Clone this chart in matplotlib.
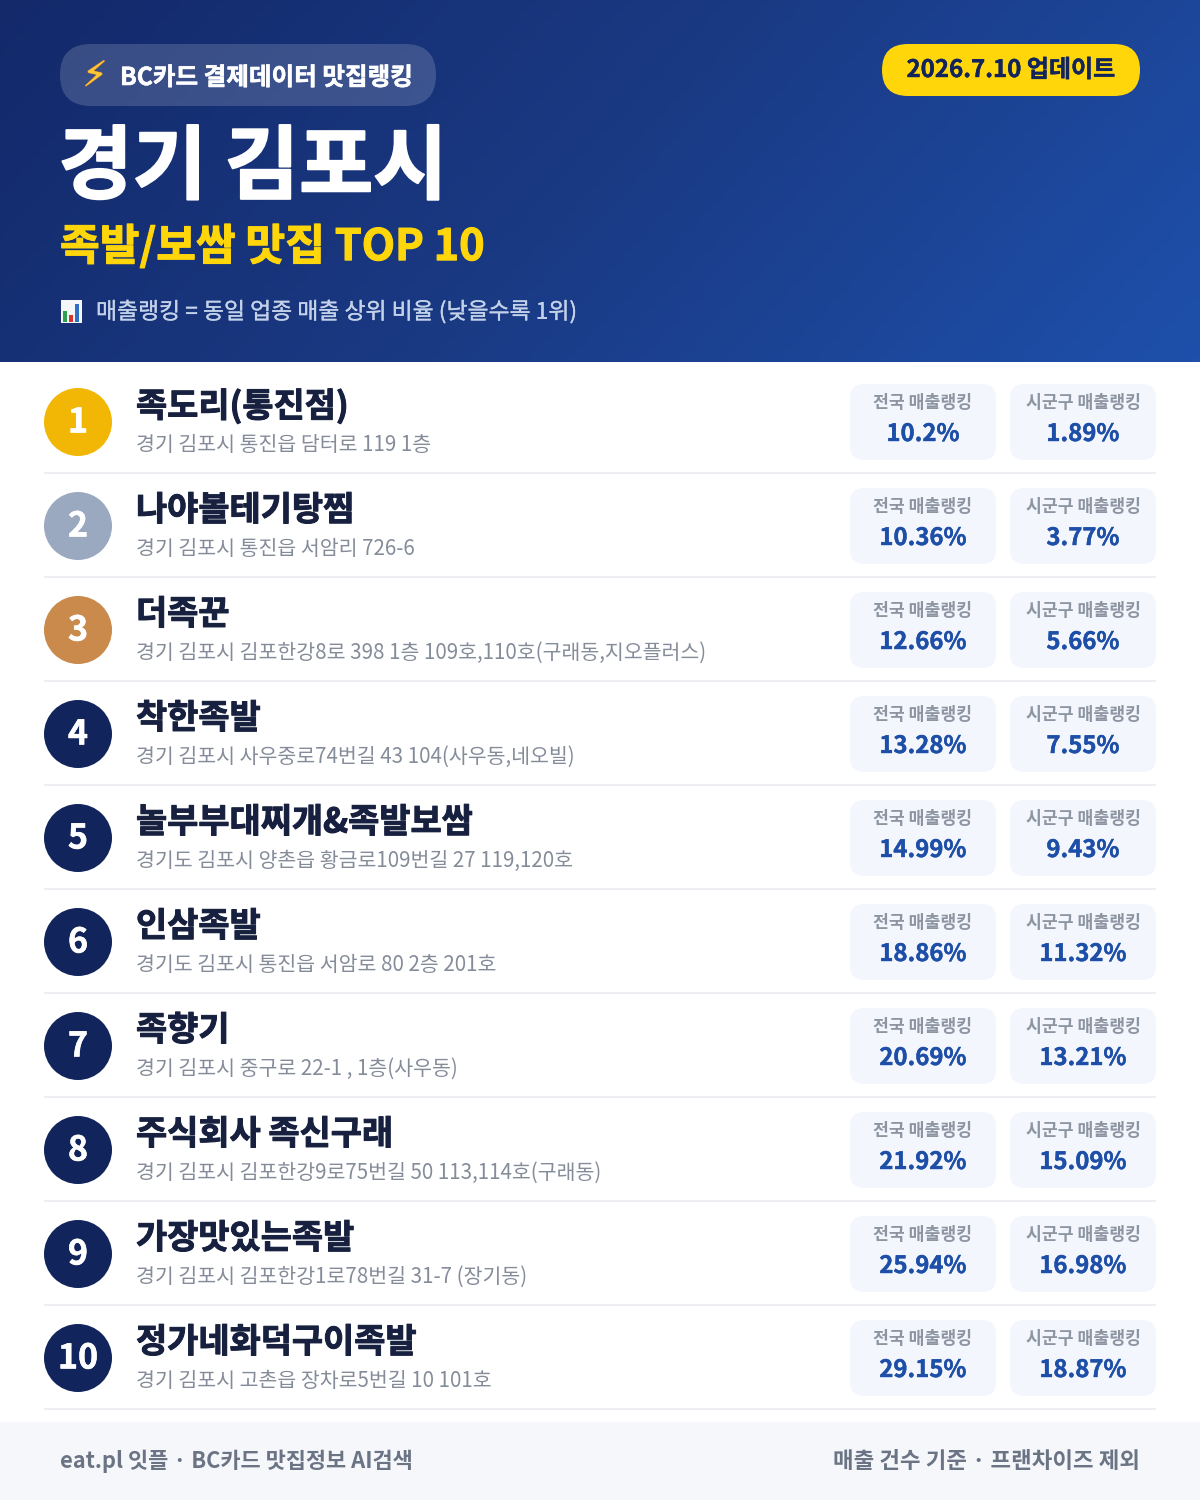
import numpy as np
import matplotlib
matplotlib.use('Agg')
import matplotlib.pyplot as plt
import matplotlib.patheffects as pe
from matplotlib.patches import FancyBboxPatch, Circle, Rectangle
from matplotlib.colors import LinearSegmentedColormap

plt.rcParams['font.family'] = ['Noto Sans CJK KR', 'DejaVu Sans']

names = ['족도리(통진점)', '나야볼테기탕찜', '더족꾼', '착한족발', '놀부부대찌개&족발보쌈',
         '인삼족발', '족향기', '주식회사 족신구래', '가장맛있는족발', '정가네화덕구이족발']
addresses = ['경기 김포시 통진읍 담터로 119 1층',
             '경기 김포시 통진읍 서암리 726-6',
             '경기 김포시 김포한강8로 398 1층 109호,110호(구래동,지오플러스)',
             '경기 김포시 사우중로74번길 43 104(사우동,네오빌)',
             '경기도 김포시 양촌읍 황금로109번길 27 119,120호',
             '경기도 김포시 통진읍 서암로 80 2층 201호',
             '경기 김포시 중구로 22-1 , 1층(사우동)',
             '경기 김포시 김포한강9로75번길 50 113,114호(구래동)',
             '경기 김포시 김포한강1로78번길 31-7 (장기동)',
             '경기 김포시 고촌읍 장차로5번길 10 101호']
national = [10.2, 10.36, 12.66, 13.28, 14.99, 18.86, 20.69, 21.92, 25.94, 29.15]
local = [1.89, 3.77, 5.66, 7.55, 9.43, 11.32, 13.21, 15.09, 16.98, 18.87]
badge_colors = ['#f2b705', '#9aa8c0', '#c98a4b'] + ['#12245c'] * 7


def pill(ax, x0, y0, x1, y1, r, color, alpha=1.0, z=2):
    ax.add_patch(FancyBboxPatch((x0 + r, y0 + r), x1 - x0 - 2 * r, y1 - y0 - 2 * r,
                                boxstyle=f'round,pad={r},rounding_size={r}',
                                fc=color, ec='none', lw=0, alpha=alpha, zorder=z))


# the reference font is heavier than the bold we have, thicken with a thin stroke
def heavy(width, color):
    return [pe.withStroke(linewidth=width, foreground=color)]


fig = plt.figure(figsize=(12, 15), dpi=100, facecolor='white')
ax = fig.add_axes([0, 0, 1, 1])
ax.set_xlim(0, 1200)
ax.set_ylim(1500, 0)
ax.axis('off')

# header background
gx, gy = np.meshgrid(np.linspace(0, 1, 300), np.linspace(0, 1, 100))
cmap = LinearSegmentedColormap.from_list('hdr', ['#13296a', '#1a3a84', '#1e50ab'])
ax.imshow((gx * 0.78 + gy * 0.22), extent=(0, 1200, 362, 0), cmap=cmap,
          aspect='auto', zorder=0, vmin=0, vmax=1)
ax.set_xlim(0, 1200)
ax.set_ylim(1500, 0)

# header pills and titles
pill(ax, 60, 44, 436, 106, 31, '#ffffff', alpha=0.16)
ax.text(95, 76, '⚡', family=['DejaVu Sans'], fontsize=25, color='#ffc83a',
        ha='center', va='center', zorder=3, path_effects=heavy(0.8, '#f09a1a'))
ax.text(120, 78, 'BC카드 결제데이터 맛집랭킹', fontsize=17.7, fontweight='bold',
        color='white', ha='left', va='center', zorder=3,
        path_effects=heavy(0.4, 'white'))
pill(ax, 882, 44, 1140, 96, 26, '#ffd60a')
ax.text(1011, 70, '2026.7.10 업데이트', fontsize=17.3, fontweight='bold',
        color='#12245c', ha='center', va='center', zorder=3,
        path_effects=heavy(0.3, '#12245c'))
ax.text(58.5, 169, '경기 김포시', fontsize=58, fontweight='bold', color='white',
        ha='left', va='center', zorder=3, path_effects=heavy(1.4, 'white'))
ax.text(60, 247, '족발/보쌈 맛집 TOP 10', fontsize=31.1, fontweight='bold',
        color='#ffd60a', ha='left', va='center', zorder=3,
        path_effects=heavy(0.8, '#ffd60a'))

# chart icon
ax.add_patch(Rectangle((61, 300), 21, 23, fc='#f4f6f8', ec='none', zorder=3))
ax.add_patch(Rectangle((63, 311), 4, 11, fc='#2e9e4f', ec='none', zorder=4))
ax.add_patch(Rectangle((69, 315), 4, 7, fc='#d9342b', ec='none', zorder=4))
ax.add_patch(Rectangle((75, 304), 4, 18, fc='#2f6fc4', ec='none', zorder=4))
ax.text(96, 312, '매출랭킹 = 동일 업종 매출 상위 비율 (낮을수록 1위)', fontsize=16.45,
        color='#c3d2ea', ha='left', va='center', zorder=3,
        path_effects=heavy(0.2, '#c3d2ea'))

# rows
for i in range(len(names)):
    dy = 104 * i
    ax.add_patch(Circle((78, 422 + dy), 34, fc=badge_colors[i], ec='none', zorder=2))
    ax.text(78, 422 + dy, str(i + 1), fontsize=24.5, fontweight='bold', color='white',
            ha='center', va='center', zorder=3, path_effects=heavy(0.4, 'white'))
    ax.text(136, 406 + dy, names[i], fontsize=24.4, fontweight='bold', color='#17213f',
            ha='left', va='center', zorder=3, path_effects=heavy(0.7, '#17213f'))
    ax.text(136, 445 + dy, addresses[i], fontsize=14.8, color='#858c99',
            ha='left', va='center', zorder=3)
    ax.plot([44, 1156], [473 + dy, 473 + dy], color='#eceef1', lw=1.5, zorder=1,
            solid_capstyle='butt')
    for x0, label, val in ((850, '전국 매출랭킹', national[i]), (1010, '시군구 매출랭킹', local[i])):
        pill(ax, x0, 384 + dy, x0 + 146, 460 + dy, 14, '#f3f6fc')
        cx = x0 + 73
        ax.text(cx, 403 + dy, label, fontsize=12.4, fontweight='bold', color='#8d95a3',
                ha='center', va='center', zorder=3)
        ax.text(cx, 434 + dy, f'{val:g}%', fontsize=17.2, fontweight='bold', color='#1e4fa8',
                ha='center', va='center', zorder=3, path_effects=heavy(0.3, '#1e4fa8'))

# footer
ax.add_patch(Rectangle((0, 1422), 1200, 78, fc='#f5f7fb', ec='none', zorder=1))
ax.text(60, 1461, 'eat.pl 잇플 · BC카드 맛집정보 AI검색', fontsize=15.8, fontweight='bold',
        color='#6b7484', ha='left', va='center', zorder=3)
ax.text(1140, 1461, '매출 건수 기준 · 프랜차이즈 제외', fontsize=16.1, fontweight='bold',
        color='#6b7484', ha='right', va='center', zorder=3)

fig.savefig('out.png', dpi=100, facecolor='white')
